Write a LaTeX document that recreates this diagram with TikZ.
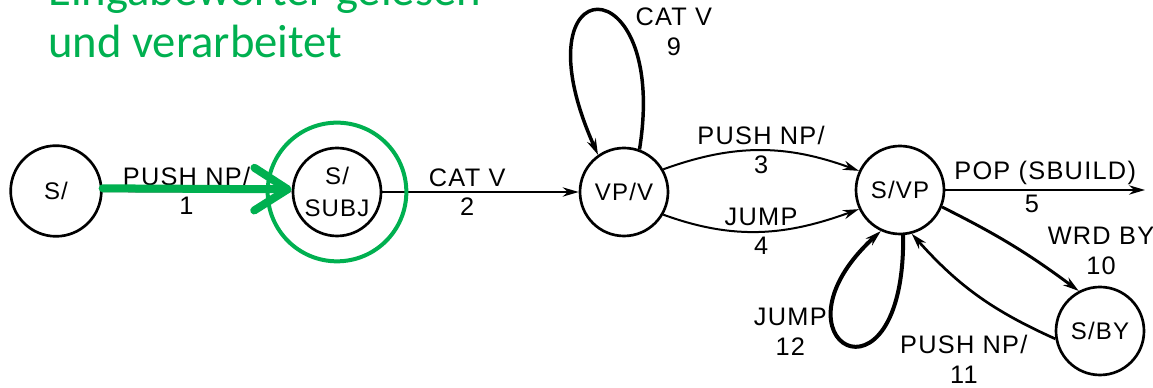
\documentclass[tikz,border=0pt]{standalone}
\usepackage{fontspec}
\setsansfont{Liberation Sans}[LetterSpace=5]
\newfontfamily\notefont{Carlito}
\usetikzlibrary{arrows.meta,positioning}
\definecolor{notegreen}{RGB}{0,176,80}
\tikzset{
  state/.style={circle,draw,line width=2pt,minimum size=66pt,inner sep=0pt,
    align=center,font=\sffamily\fontsize{18}{24}\selectfont},
  arc/.style={line width=1.5pt,->},
  heavyarc/.style={line width=2.6pt,->},
  lbl/.style={align=center,font=\sffamily\fontsize{19}{22}\selectfont},
  note/.style={anchor=base west,inner sep=0pt,text=notegreen,
    font=\notefont\fontsize{35}{42}\selectfont}
}

\begin{document}
\begin{tikzpicture}[x=0.75pt,y=0.75pt,>={Stealth[length=12pt,width=7pt]}]
  \useasboundingbox (0,0) rectangle (1153,388);
  \clip (0,0) rectangle (1153,388);

  % states of the network
  \node[state,minimum size=68pt] (s) at (56,197) {S/};
  \node[state] (subj) at (337,196) {S/\\SUBJ};
  \node[state] (vpv)  at (624,196) {VP/V};
  \node[state] (svp)  at (900,198) {S/VP};
  \node[state] (sby)  at (1100,57) {S/BY};
  \coordinate (popend) at (1145,198);

  \draw[arc] (s) -- (subj)
    node[lbl,above,midway,xshift=-8pt]{PUSH NP/} node[lbl,below,midway,xshift=-8pt]{1};
  \draw[arc] (subj) -- (vpv)
    node[lbl,above,midway,xshift=-10pt]{CAT V} node[lbl,below,midway,xshift=-10pt]{2};
  \draw[heavyarc] (vpv.70) .. controls +(30,188) and +(-85,190) .. (vpv.125)
    node[lbl,pos=0.4,anchor=north west,xshift=12pt,yshift=10pt]{CAT V\\9};
  \draw[arc] (vpv.30) to[out=20,in=160]
    node[lbl,above]{PUSH NP/} node[lbl,below]{3} (svp.155);
  \draw[arc] (vpv.-30) to[out=-20,in=-160]
    node[lbl,above]{JUMP} node[lbl,below]{4} (svp.-155);
  \draw[arc] (svp) -- (popend)
    node[lbl,above,midway]{POP (SBUILD)} node[lbl,below,midway,xshift=-10pt]{5};
  \draw[heavyarc,line width=2.2pt] (svp.-22) to[bend left=5]
    node[lbl,right,xshift=22pt,yshift=-4pt]{WRD BY\\10} (sby.118);
  \draw[arc,line width=2pt] (sby.190) to[bend left=12]
    node[lbl,below,yshift=-26pt,xshift=-10pt]{PUSH NP/\\11} (svp.-75);
  \draw[heavyarc,line width=3pt] (svp.-86) .. controls +(2,-186) and +(-120,-110) .. (svp.-115)
    node[lbl,pos=0.7,left,yshift=-12pt]{JUMP\\12};

  % green marking
  \node[note] (noteA) at (48,382) {Eingabewörter gelesen};
  \node[note] (noteB) at (48,330) {und verarbeitet};
  \node[circle,draw=notegreen,line width=3pt,minimum size=104pt] (ring) at (subj) {};
  \draw[notegreen,line width=6pt,line cap=round,
        -{Straight Barb[length=25pt,width=32pt,round]}]
    ([yshift=2pt]s.east) -- ([yshift=2pt]subj.west);
\end{tikzpicture}
\end{document}
